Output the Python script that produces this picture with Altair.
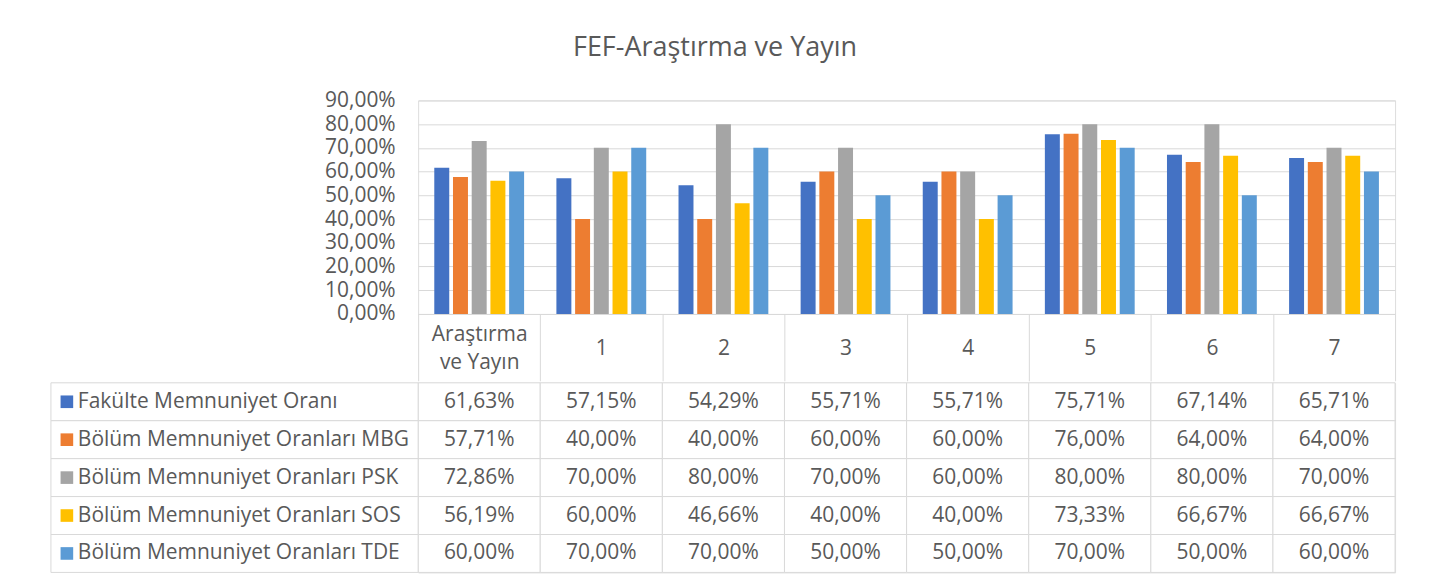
import altair as alt
import pandas as pd

categories = ["Araştırma ve Yayın", "1", "2", "3", "4", "5", "6", "7"]
series = [
    "Fakülte Memnuniyet Oranı",
    "Bölüm Memnuniyet Oranları MBG",
    "Bölüm Memnuniyet Oranları PSK",
    "Bölüm Memnuniyet Oranları SOS",
    "Bölüm Memnuniyet Oranları TDE",
]
fakulte = [61.63, 57.15, 54.29, 55.71, 55.71, 75.71, 67.14, 65.71]
mbg = [57.71, 40.00, 40.00, 60.00, 60.00, 76.00, 64.00, 64.00]
psk = [72.86, 70.00, 80.00, 70.00, 60.00, 80.00, 80.00, 70.00]
sos = [56.19, 60.00, 46.66, 40.00, 40.00, 73.33, 66.67, 66.67]
tde = [60.00, 70.00, 70.00, 50.00, 50.00, 70.00, 50.00, 60.00]
colors = ["#4472C4", "#ED7D31", "#A5A5A5", "#FFC000", "#5B9BD5"]
y_ticks = [0.0, 0.1, 0.2, 0.3, 0.4, 0.5, 0.6, 0.7, 0.8, 0.9]

rows = []
for name, vals in zip(series, [fakulte, mbg, psk, sos, tde]):
    for cat, v in zip(categories, vals):
        rows.append({"category": cat, "series": name, "value": v / 100.0})
df = pd.DataFrame(rows)

FONT = "Open Sans"
TXT = "#595959"
GRID = "#D9D9D9"
FS = 21
PLOT_W = 979
LEFT_COL = 368

color_enc = alt.Color("series:N", scale=alt.Scale(domain=series, range=colors), legend=None)

label_expr = "datum.label == 'Araştırma ve Yayın' ? ['Araştırma', 've Yayın'] : datum.label"
label_baseline = {
    "condition": {"test": "datum.value == 'Araştırma ve Yayın'", "value": "line-bottom"},
    "value": "middle",
}

bars = alt.Chart(df).mark_bar().encode(
    x=alt.X(
        "category:N",
        sort=categories,
        scale=alt.Scale(paddingInner=0, paddingOuter=0),
        axis=alt.Axis(
            title=None,
            labelAngle=0,
            tickBand="extent",
            tickSize=67,
            tickColor=GRID,
            domainColor=GRID,
            labelPadding=-32,
            labelBaseline=label_baseline,
            labelFont=FONT,
            labelFontSize=FS,
            labelColor=TXT,
            labelLineHeight=28,
            labelExpr=label_expr,
        ),
    ),
    xOffset=alt.XOffset("series:N", sort=series, scale=alt.Scale(paddingInner=0.2, paddingOuter=0.863)),
    y=alt.Y(
        "value:Q",
        scale=alt.Scale(domain=[0, 0.9], nice=False),
        axis=alt.Axis(
            title=None,
            values=y_ticks,
            labelExpr="replace(format(datum.value, '.2%'), '.', ',')",
            labelFont=FONT,
            labelFontSize=FS,
            labelColor=TXT,
            labelPadding=23,
            ticks=False,
            tickSize=0,
            domain=False,
            gridColor=GRID,
            minExtent=LEFT_COL,
        ),
    ),
    color=color_enc,
).properties(width=PLOT_W, height=214)

base = alt.Chart(df).transform_calculate(
    label="replace(format(datum.value, '.2%'), '.', ',')"
)
x_tab = alt.X("category:N", sort=categories, scale=alt.Scale(paddingInner=0, paddingOuter=0), axis=None)
y_tab = alt.Y("series:N", sort=series, scale=alt.Scale(paddingInner=0, paddingOuter=0), axis=None)

cells = base.mark_rect(fill="white", stroke=GRID, strokeWidth=1).encode(x=x_tab, y=y_tab)
vals = base.mark_text(font=FONT, fontSize=FS, color=TXT).encode(x=x_tab, y=y_tab, text="label:N")

legend_df = pd.DataFrame({"series": series})
leg = alt.Chart(legend_df)
leg_cells = leg.mark_rect(fill="white", stroke=GRID, strokeWidth=1).encode(
    x=alt.value(-LEFT_COL), x2=alt.value(0), y=y_tab
)
leg_sq = leg.mark_square(size=160, opacity=1).encode(x=alt.value(-352), y=y_tab, color=color_enc)
leg_txt = leg.mark_text(font=FONT, fontSize=FS, color=TXT, align="left").encode(
    x=alt.value(-341), y=y_tab, text="series:N"
)

table = alt.layer(cells, vals, leg_cells, leg_sq, leg_txt).properties(width=PLOT_W, height=190)

chart = alt.vconcat(bars, table, spacing=0).properties(
    title=alt.TitleParams(
        "FEF-Araştırma ve Yayın",
        font=FONT,
        fontSize=27,
        fontWeight="normal",
        color=TXT,
        anchor="middle",
        dx=-8,
        offset=27,
    ),
    padding={"left": 42, "top": 25, "right": 30, "bottom": 5},
).configure_view(stroke=None).configure(background="white")

chart.save("out.html", embed_options={"renderer": "svg", "actions": False})
